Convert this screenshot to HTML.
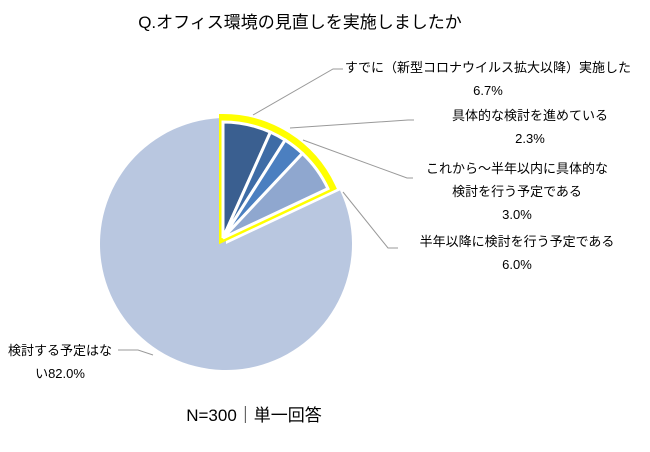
<!DOCTYPE html>
<html><head><meta charset="utf-8"><style>
body{margin:0;background:#fff;}
svg text{font-family:"Liberation Sans","Noto Sans CJK JP",sans-serif;fill:#000;}
</style></head><body>
<svg width="650" height="447" viewBox="0 0 650 447">
<text x="300" y="28" font-size="17" text-anchor="middle">Q.オフィス環境の見直しを実施しましたか</text>
<g id="slices"></g>
<g stroke="#999" stroke-width="1" fill="none">
<polyline points="253,115 333,69 343,69"/>
<polyline points="290,128 408,120 414,120"/>
<polyline points="303,140 407,178 413,178"/>
<polyline points="343,192 388,248 398,248"/>
<polyline points="153,355 138,350 118,350"/>
</g>
<g font-size="13" text-anchor="middle">
<text x="488" y="72">すでに（新型コロナウイルス拡大以降）実施した</text>
<text x="488" y="95">6.7%</text>
<text x="530" y="120">具体的な検討を進めている</text>
<text x="530" y="143">2.3%</text>
<text x="517" y="173">これから～半年以内に具体的な</text>
<text x="517" y="196">検討を行う予定である</text>
<text x="517" y="219">3.0%</text>
<text x="517" y="246">半年以降に検討を行う予定である</text>
<text x="517" y="269">6.0%</text>
<text x="60" y="355">検討する予定はな</text>
<text x="60" y="378">い82.0%</text>
</g>
<text x="254" y="421" font-size="17" text-anchor="middle">N=300｜単一回答</text>
</svg>
<script>
const categories=["すでに実施した","具体的な検討を進めている","半年以内に検討予定","半年以降に検討予定","検討する予定はない"];
const values=[6.7,2.3,3.0,6.0,82.0];
const colors=["#3a5f90","#3e6ca6","#4b7fc0","#8fa7cf","#b9c7e0"];
const NS="http://www.w3.org/2000/svg";
const g=document.getElementById('slices');
const total=values.reduce((a,b)=>a+b,0);
function pt(cx,cy,r,a){return [cx+r*Math.sin(a),cy-r*Math.cos(a)];}
function arc(cx,cy,r,a0,a1){const p0=pt(cx,cy,r,a0),p1=pt(cx,cy,r,a1);const lg=(a1-a0)>Math.PI?1:0;
return `M${cx},${cy}L${p0[0]},${p0[1]}A${r},${r} 0 ${lg} 1 ${p1[0]},${p1[1]}Z`;}
const n=values.length;
// big remaining slice
let acc=0;const angles=[];
values.forEach(v=>{const a0=acc/total*2*Math.PI;acc+=v;angles.push([a0,acc/total*2*Math.PI]);});
const big=document.createElementNS(NS,'path');
big.setAttribute('d',arc(226,244,126,angles[n-1][0],angles[n-1][1]));
big.setAttribute('fill',colors[n-1]);


g.appendChild(big);
// highlighted group
const hl=document.createElementNS(NS,'path');
hl.setAttribute('d',arc(223,238,120,0,angles[n-2][1]));
hl.setAttribute('fill','#fff');hl.setAttribute('stroke','#ffff00');hl.setAttribute('stroke-width','8');hl.setAttribute('stroke-linejoin','miter');


g.appendChild(hl);
for(let i=0;i<n-1;i++){
const p=document.createElementNS(NS,'path');
p.setAttribute('d',arc(223,238,116,angles[i][0],angles[i][1]));
p.setAttribute('fill',colors[i]);p.setAttribute('stroke','#fff');p.setAttribute('stroke-width','3');


g.appendChild(p);
}
</script>
</body></html>
